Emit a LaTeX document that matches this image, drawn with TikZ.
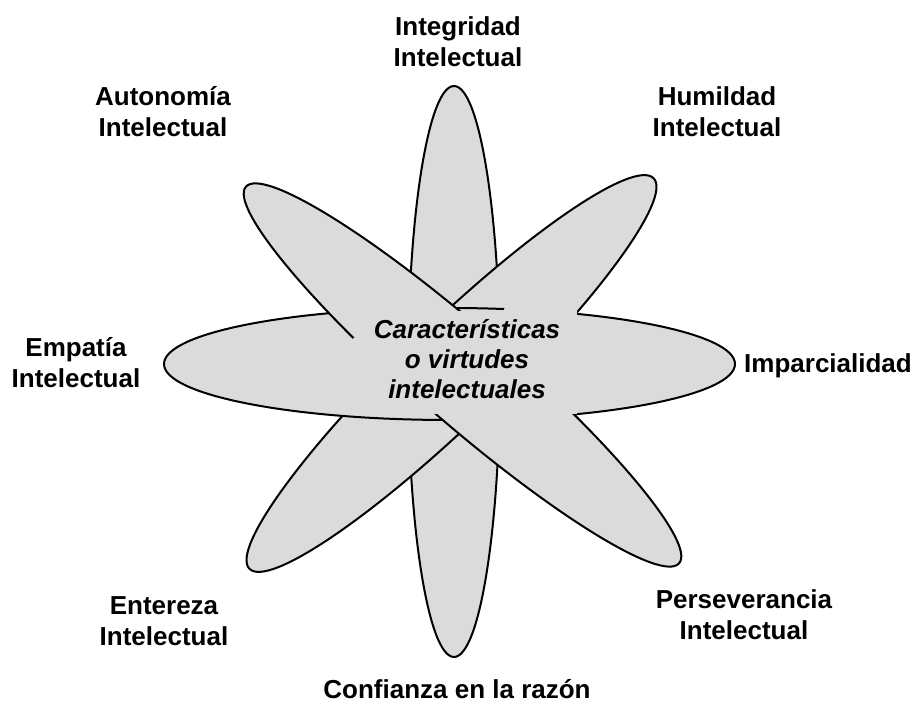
\documentclass[tikz,border=0pt]{standalone}
\usepackage{fontspec}
\setmainfont{Liberation Sans}
\definecolor{petalgray}{RGB}{219,219,219}
\tikzset{
  petal/.style={fill=petalgray, draw=black, line width=2pt},
  lbl/.style={font=\fontsize{26}{31}\selectfont\bfseries, align=center, inner sep=0pt, anchor=north},
  ctr/.style={font=\fontsize{26}{30}\selectfont\bfseries\itshape, align=center, inner sep=0pt, anchor=north},
}
\begin{document}
\begin{tikzpicture}[x=1pt,y=1pt]
\useasboundingbox (0,0) rectangle (917,704);
\fill[white] (0,0) rectangle (917,704);
% petals, bottom to top
\draw[petal] (454,332.5) ellipse [x radius=46, y radius=285.5];
\draw[petal, rotate around={44:(451.5,330.5)}] (451.5,330.5) ellipse [x radius=281, y radius=49];
\draw[petal] (449.5,340) ellipse [x radius=285.5, y radius=56];
\draw[petal, rotate around={-41:(462.5,329)}] (462.5,329) ellipse [x radius=287, y radius=47];
% borderless central text area
\fill[petalgray] (353,366) -- (353,290) -- (577,290) -- (577,397) -- (505,397) -- (503,392) -- (452,393) -- cycle;
% labels
\node[ctr] (centro) at (467,385) {Características\\o virtudes\\intelectuales};
\node[lbl] (integridad) at (458,688) {Integridad\\Intelectual};
\node[lbl] (autonomia) at (163,618) {Autonomía\\Intelectual};
\node[lbl] (humildad) at (717,618) {Humildad\\Intelectual};
\node[lbl] (empatia) at (76,367) {Empatía\\Intelectual};
\node[lbl] (imparcialidad) at (828,351) {Imparcialidad};
\node[lbl] (entereza) at (164,108) {Entereza\\Intelectual};
\node[lbl] (perseverancia) at (744,115) {Perseverancia\\Intelectual};
\node[lbl] (confianza) at (457,25) {Confianza en la razón};
\end{tikzpicture}
\end{document}
